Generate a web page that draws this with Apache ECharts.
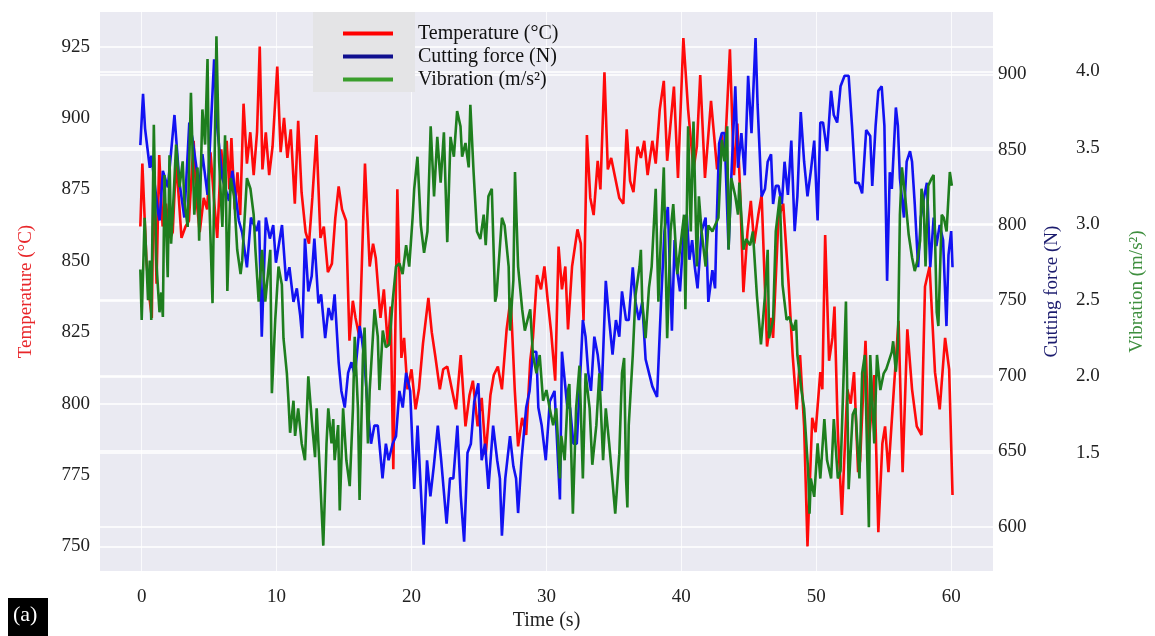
<!DOCTYPE html>
<html><head><meta charset="utf-8">
<script src="https://cdn.jsdelivr.net/npm/echarts@6/dist/echarts.min.js"></script>
<style>html,body{margin:0;padding:0;background:#fff}#c{width:1155px;height:636px}</style>
</head><body><div id="c"></div>
<script>
// ---------- data ----------
const seriesNames = ['Temperature (°C)', 'Cutting force (N)', 'Vibration (m/s²)'];
const xTicks = [0, 10, 20, 30, 40, 50, 60];
const tempTicks = [750, 775, 800, 825, 850, 875, 900, 925];
const tempGridValues = [750, 800, 925];
const forceTicks = [600, 650, 700, 750, 800, 850, 900];
const vibTicks = [1.5, 2.0, 2.5, 3.0, 3.5, 4.0];

const tempTime = [
  -0.1,0.05,0.35,0.6,0.75,0.9,1.1,1.3,1.55,1.8,
  2.1,2.3,2.55,2.75,2.95,3.25,3.5,3.85,4.05,4.3,
  4.6,4.85,5.1,5.35,5.6,5.9,6.1,6.3,6.5,6.65,
  6.9,7.1,7.3,7.55,7.8,8.05,8.3,8.55,8.75,8.95,
  9.2,9.45,9.7,10.05,10.3,10.55,10.8,11.05,11.35,11.6,
  11.85,12.15,12.4,12.65,12.95,13.25,13.5,13.8,14.1,14.35,
  14.6,14.85,15.15,15.4,15.65,15.85,16.15,16.55,16.9,17.15,
  17.35,17.7,17.95,18.25,18.45,18.65,18.95,19.25,19.45,19.7,
  20.0,20.3,20.55,20.85,21.25,21.5,21.75,22.1,22.35,22.65,
  22.95,23.3,23.65,24.0,24.3,24.55,24.9,25.2,25.5,25.85,
  26.1,26.4,26.7,27.05,27.35,27.65,27.9,28.2,28.5,28.8,
  29.0,29.3,29.6,29.85,30.1,30.35,30.65,30.9,31.15,31.4,
  31.6,31.9,32.3,32.55,32.75,33.0,33.25,33.5,33.8,34.0,
  34.3,34.55,34.8,35.1,35.4,35.7,35.95,36.2,36.45,36.75,
  37.0,37.25,37.5,37.85,38.1,38.4,38.7,38.95,39.45,39.75,
  40.15,40.5,40.9,41.15,41.4,41.75,42.2,42.65,43.0,43.2,
  43.6,43.9,44.15,44.35,44.6,44.9,45.15,45.4,45.7,45.95,
  46.35,46.65,46.8,47.2,47.55,47.95,48.25,48.55,48.8,49.1,
  49.35,49.7,49.95,50.3,50.45,50.66,50.95,51.2,51.35,51.6,
  51.9,52.3,52.55,52.8,53.1,53.25,53.65,53.9,54.3,54.6,
  54.9,55.1,55.35,55.75,56.1,56.4,56.75,57.1,57.45,57.8,
  58.06,58.4,58.8,59.15,59.55,59.85,60.1
];
const temperature = [
  862,884,850,836,830,886,842,887,862,870,
  858,860,885,872,858,862,864,892,872,860,
  872,868,888,872,858,889,878,892,875,893,
  868,881,866,905,884,895,880,895,925,882,
  895,880,890,918,888,900,886,896,870,899,
  874,860,856,872,894,858,862,846,849,865,
  876,868,864,822,836,830,823,884,848,856,
  851,830,840,820,834,777,875,816,823,805,
  812,798,805,821,837,825,817,805,812,813,
  806,798,817,792,803,808,792,802,782,803,
  810,813,805,826,837,805,785,795,789,815,
  823,845,840,848,836,825,808,855,840,848,
  826,848,861,856,829,894,872,866,885,875,
  916,882,886,879,872,870,896,878,874,890,
  886,892,880,892,884,903,913,885,911,879,
  928,903,882,890,915,879,906,882,894,885,
  924,880,898,875,839,860,871,856,866,873,
  820,830,823,865,870,842,817,798,817,792,
  750,795,790,811,805,859,815,823,834,790,
  761,805,800,811,776,780,822,786,810,755,
  786,792,776,805,829,776,826,805,792,789,
  841,848,811,798,823,812,768
];

const forceTime = [
  -0.1,0.1,0.25,0.6,0.72,1.2,1.33,1.57,1.94,2.43,
  2.79,3.16,3.53,3.77,4.26,4.5,4.88,5.37,5.61,5.98,
  6.47,6.72,7.2,7.45,7.8,8.1,8.5,8.7,8.9,9.2,
  9.5,9.75,9.95,10.4,10.7,10.95,11.25,11.5,11.75,11.9,
  12.1,12.35,12.6,12.8,13.1,13.3,13.6,13.85,14.1,14.3,
  14.6,14.8,15.05,15.3,15.55,15.8,16.15,16.3,16.5,16.75,
  17.0,17.25,17.5,17.85,18.1,18.3,18.6,18.85,19.1,19.35,
  19.6,19.9,20.2,20.45,20.9,21.15,21.4,21.65,21.95,22.2,
  22.6,22.85,23.1,23.4,23.65,23.9,24.15,24.4,24.65,24.95,
  25.2,25.45,25.7,26.05,26.35,26.55,26.7,26.95,27.3,27.55,
  27.75,27.9,28.15,28.5,28.75,29.0,29.25,29.4,29.65,29.95,
  30.25,30.6,31.0,31.15,31.3,31.55,31.75,32.0,32.25,32.45,
  32.7,32.9,33.1,33.3,33.55,33.8,34.1,34.4,34.65,34.9,
  35.15,35.4,35.6,35.9,36.1,36.4,36.6,36.85,37.1,37.35,
  37.6,37.85,38.2,38.5,38.75,39.0,39.3,39.5,39.65,39.9,
  40.2,40.4,40.6,40.8,41.0,41.2,41.5,41.8,42.0,42.3,
  42.5,42.6,42.8,43.0,43.2,43.5,43.7,44.0,44.2,44.45,
  44.7,44.95,45.2,45.5,45.65,45.95,46.2,46.4,46.65,46.8,
  47.0,47.2,47.45,47.65,47.9,48.15,48.4,48.6,48.85,49.1,
  49.35,49.6,49.85,50.1,50.3,50.5,50.8,51.1,51.3,51.55,
  51.8,52.1,52.4,52.65,52.9,53.15,53.4,53.7,54.0,54.15,
  54.4,54.6,54.85,55.05,55.25,55.45,55.6,55.9,56.05,56.2,
  56.5,56.7,56.95,57.1,57.3,57.55,57.75,58.0,58.2,58.45,
  58.7,58.9,59.15,59.4,59.65,59.8,60.0,60.1
];
const cuttingForce = [
  853,887,864,838,846,809,803,836,825,873,
  829,805,868,857,825,847,820,910,864,831,
  816,836,803,795,772,805,796,803,726,805,
  791,800,775,800,763,772,749,758,740,725,
  791,756,766,791,748,754,725,745,737,754,
  709,690,679,702,709,700,733,726,711,679,
  655,667,667,632,655,644,655,660,690,679,
  702,690,625,667,588,644,620,640,667,644,
  602,632,632,667,620,590,649,655,683,695,
  644,655,625,667,644,632,594,632,660,640,
  632,609,644,679,690,716,716,679,667,644,
  683,690,618,716,702,679,679,655,655,690,
  737,726,702,690,726,714,690,763,737,714,
  737,726,756,737,737,772,749,737,749,711,
  702,693,686,750,796,812,730,790,772,756,
  800,807,777,790,772,758,796,805,749,770,
  758,796,854,861,861,784,831,892,838,861,
  833,899,861,924,880,819,824,842,847,814,
  826,826,814,842,820,856,796,819,875,842,
  819,836,856,803,868,868,849,889,873,868,
  892,899,899,866,828,828,821,863,859,826,
  866,889,892,866,763,835,824,878,866,831,
  805,842,849,842,814,772,805,819,828,772,
  805,786,800,790,733,780,796,772
];

const vibTime = [
  -0.1,0.0,0.22,0.47,0.6,0.71,0.9,1.08,1.32,1.45,
  1.57,1.69,1.81,1.93,2.06,2.18,2.3,2.55,2.8,3.04,
  3.16,3.41,3.65,3.9,4.14,4.26,4.5,4.7,4.88,5.0,
  5.25,5.54,5.74,5.98,6.18,6.35,6.6,6.85,7.08,7.33,
  7.45,7.8,8.06,8.3,8.43,8.67,8.92,9.16,9.53,9.65,
  9.9,10.14,10.39,10.51,10.76,10.88,11.0,11.25,11.37,11.6,
  11.86,12.1,12.35,12.6,12.85,12.97,13.2,13.46,13.7,13.83,
  14.07,14.2,14.3,14.56,14.68,14.93,15.17,15.42,15.66,15.79,
  16.03,16.15,16.4,16.52,16.77,16.9,17.26,17.5,17.62,17.87,
  18.1,18.36,18.6,18.85,19.1,19.34,19.6,19.83,20.08,20.2,
  20.44,20.69,20.93,21.18,21.42,21.67,21.91,22.16,22.4,22.65,
  22.89,23.14,23.38,23.63,23.75,24.0,24.24,24.36,24.6,24.85,
  25.1,25.35,25.5,25.7,25.95,26.2,26.3,26.7,26.9,27.2,
  27.3,27.55,27.67,27.9,28.2,28.4,28.8,29.0,29.26,29.5,
  29.75,30.0,30.24,30.5,30.73,31.0,31.1,31.35,31.6,31.7,
  31.96,32.2,32.45,32.7,32.9,33.2,33.4,33.7,33.92,34.2,
  34.4,34.65,34.9,35.1,35.4,35.6,35.76,35.9,36.0,36.1,
  36.4,36.6,36.9,37.0,37.1,37.35,37.6,37.8,38.1,38.3,
  38.5,38.7,38.95,39.2,39.4,39.7,39.9,40.2,40.3,40.5,
  40.7,40.9,41.15,41.3,41.5,41.8,42.0,42.3,42.5,42.75,
  43.0,43.2,43.4,43.5,43.7,44.0,44.2,44.3,44.6,44.8,
  45.1,45.3,45.6,45.9,46.2,46.4,46.5,46.8,47.0,47.3,
  47.5,47.8,48.0,48.3,48.5,48.6,48.9,49.1,49.4,49.5,
  49.6,49.85,50.1,50.3,50.6,50.8,51.1,51.3,51.6,51.8,
  51.95,52.2,52.4,52.7,52.9,53.2,53.4,53.6,53.9,54.0,
  54.3,54.5,54.75,55.0,55.2,55.6,55.7,55.9,56.05,56.2,
  56.35,56.6,56.85,57.1,57.3,57.5,57.7,57.8,57.95,58.1,
  58.3,58.56,58.7,58.93,59.05,59.3,59.45,59.66,59.9,60.05
];
const vibration = [
  2.70,2.37,3.04,2.50,2.76,2.37,3.65,2.76,2.42,2.55,
  2.39,3.32,2.98,2.65,3.45,2.87,3.06,3.52,3.24,3.41,
  3.15,2.98,3.86,3.06,3.37,2.89,3.75,3.52,4.08,3.19,
  2.48,4.23,3.41,2.98,3.58,2.56,3.30,3.18,2.83,2.67,
  2.76,3.30,3.23,3.06,2.83,2.49,2.83,2.49,2.83,1.89,
  2.37,2.72,2.60,2.25,2.02,1.84,1.63,1.84,1.61,1.79,
  1.56,1.45,2.00,1.72,1.47,1.79,1.38,0.89,1.56,1.79,
  1.56,1.72,1.45,1.68,1.12,1.79,1.45,1.28,1.79,2.26,
  1.79,1.19,2.14,2.32,1.56,1.91,2.44,2.26,1.91,2.30,
  2.19,2.21,2.49,2.72,2.74,2.67,2.86,2.72,3.04,3.23,
  3.44,2.99,2.81,2.95,3.64,3.18,3.57,3.27,3.60,2.88,
  3.57,3.44,3.74,3.64,3.44,3.53,3.37,3.78,3.34,2.95,
  2.90,3.06,2.86,3.18,3.23,2.49,2.53,3.04,2.99,2.72,
  2.30,2.63,3.34,2.72,2.44,2.30,2.44,2.14,2.02,2.14,
  1.84,1.91,1.79,1.68,1.79,1.33,1.61,1.45,1.91,1.95,
  1.10,1.79,2.07,1.33,2.02,1.79,1.42,1.68,2.02,1.45,
  1.79,1.56,1.31,1.10,1.49,2.02,2.12,1.33,1.14,1.68,
  2.14,2.53,2.72,2.83,2.49,2.25,2.58,2.72,3.23,2.49,
  2.95,3.37,2.25,2.95,3.13,2.67,2.83,3.06,2.44,3.64,
  2.95,3.67,2.72,3.18,2.95,2.72,2.99,2.95,2.99,3.04,
  3.55,3.41,3.64,2.83,3.30,3.18,3.06,3.27,2.83,2.90,
  2.86,2.95,2.53,2.21,2.53,2.83,2.25,2.37,2.95,3.18,
  2.60,2.37,2.39,2.30,2.37,2.14,1.91,1.79,1.38,1.10,
  1.33,1.21,1.56,1.33,1.72,1.45,1.33,1.72,1.33,1.38,
  1.79,2.49,1.26,1.75,1.79,1.33,2.02,2.14,1.01,2.14,
  1.56,2.14,1.91,2.02,2.05,2.16,2.23,2.03,2.20,3.06,
  3.37,3.17,2.93,2.78,2.69,2.76,2.89,3.23,3.15,2.72,
  3.25,3.30,3.32,2.42,2.33,3.06,3.04,2.95,3.34,3.25
];

// ---------- chart ----------
const SERIF = "'Liberation Serif', 'Times New Roman', serif";
function pairs(ts, vs) { return ts.map((t, i) => [t, vs[i]]); }

const chart = echarts.init(document.getElementById('c'), null, { renderer: 'canvas' });
const gridLine = { show: true, lineStyle: { color: '#ffffff', width: 1.6 } };

chart.setOption({
  animation: false,
  backgroundColor: '#ffffff',
  grid: { left: 100, right: 155, top: 12, bottom: 58, show: true, backgroundColor: '#EAEAF2', borderWidth: 0 },
  legend: {
    left: 338, top: 18, orient: 'vertical', itemWidth: 50, itemHeight: 4, itemGap: 2, icon: 'rect',
    z: 6,
    textStyle: { fontFamily: SERIF, fontSize: 20, color: '#111', lineHeight: 21, padding: [0, 0, 0, 20] },
    data: [
      { name: seriesNames[0], itemStyle: { color: '#FF0000' } },
      { name: seriesNames[1], itemStyle: { color: '#0F0F8F' } },
      { name: seriesNames[2], itemStyle: { color: '#3A9E2C' } }
    ]
  },
  xAxis: {
    type: 'value', min: -3.09, max: 63.1,
    axisLine: { show: false }, axisTick: { show: false, customValues: xTicks },
    axisLabel: { customValues: xTicks, margin: 16, fontFamily: SERIF, fontSize: 19, color: '#222' },
    splitLine: { show: true, lineStyle: { color: 'rgba(255,255,255,0.75)', width: 1 } },
    name: 'Time (s)', nameLocation: 'middle', nameGap: 38,
    nameTextStyle: { fontFamily: SERIF, fontSize: 20, color: '#222' }
  },
  yAxis: [
    {
      type: 'value', position: 'left', min: 741.35, max: 937.1,
      axisLine: { show: false }, axisTick: { show: false, customValues: tempGridValues },
      axisLabel: { customValues: tempTicks, margin: 10, fontFamily: SERIF, fontSize: 19, color: '#222' },
      splitLine: gridLine,
      name: seriesNames[0], nameLocation: 'middle', nameGap: 64,
      nameTextStyle: { fontFamily: SERIF, fontSize: 19, color: '#E8262A' }
    },
    {
      type: 'value', position: 'right', min: 570.5, max: 941.3,
      axisLine: { show: false }, axisTick: { show: false, customValues: forceTicks },
      axisLabel: { customValues: forceTicks, margin: 5, fontFamily: SERIF, fontSize: 19, color: '#222' },
      splitLine: gridLine,
      name: seriesNames[1], nameLocation: 'middle', nameGap: 50,
      nameTextStyle: { fontFamily: SERIF, fontSize: 19, color: '#1C1C6E' }
    },
    {
      type: 'value', position: 'right', offset: 78, min: 0.723, max: 4.389,
      axisLine: { show: false }, axisTick: { show: false, customValues: vibTicks },
      axisLabel: { customValues: vibTicks, margin: 5, fontFamily: SERIF, fontSize: 19, color: '#222',
                   formatter: v => Number(v).toFixed(1) },
      splitLine: gridLine,
      name: seriesNames[2], nameLocation: 'middle', nameGap: 57,
      nameTextStyle: { fontFamily: SERIF, fontSize: 19, color: '#3F8F3F' }
    }
  ],
  graphic: [
    { type: 'rect', left: 313, top: 12, shape: { width: 102, height: 80 }, style: { fill: '#E4E4E6' }, z: 5 },
    { type: 'rect', left: 8, top: 598, shape: { width: 40, height: 38 }, style: { fill: '#000000' }, z: 5 },
    { type: 'text', left: 13, top: 604, style: { text: '(a)', fill: '#ffffff', font: "22px 'Liberation Serif'" }, z: 6 }
  ],
  series: [
    { name: seriesNames[0], type: 'line', yAxisIndex: 0, data: pairs(tempTime, temperature),
      symbol: 'none', lineStyle: { width: 2.6, color: '#FF0A0A' }, itemStyle: { color: '#FF0A0A' }, z: 2 },
    { name: seriesNames[1], type: 'line', yAxisIndex: 1, data: pairs(forceTime, cuttingForce),
      symbol: 'none', lineStyle: { width: 2.6, color: '#1212F2' }, itemStyle: { color: '#1212F2' }, z: 3 },
    { name: seriesNames[2], type: 'line', yAxisIndex: 2, data: pairs(vibTime, vibration),
      symbol: 'none', lineStyle: { width: 2.6, color: '#1E7E1E' }, itemStyle: { color: '#1E7E1E' }, z: 4 }
  ]
});
</script>
</body></html>
